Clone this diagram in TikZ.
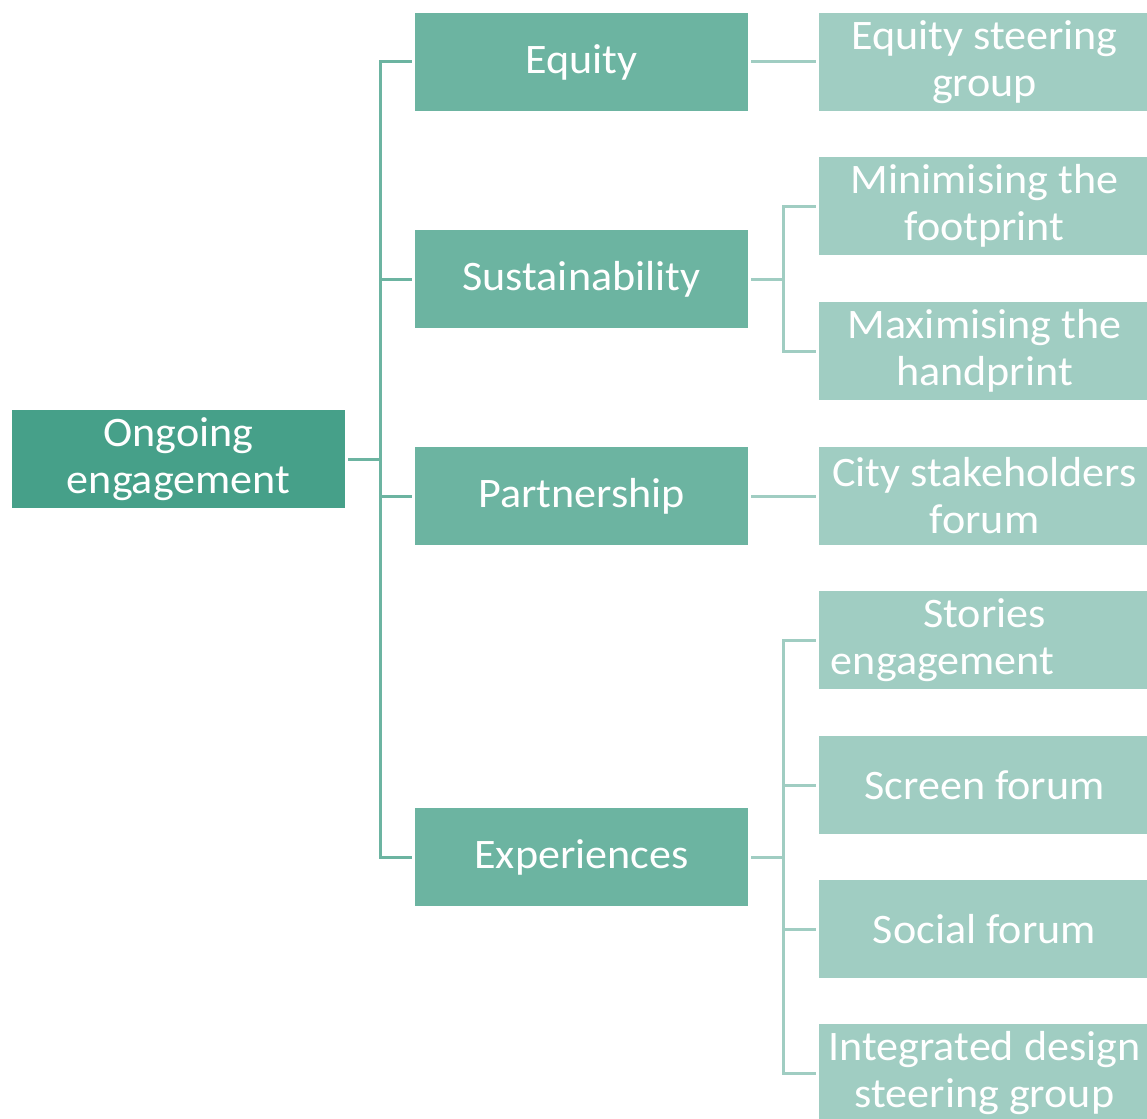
\documentclass[tikz,border=0pt]{standalone}
\usepackage{fontspec}
\setmainfont{Carlito}[FakeStretch=1.05]
\definecolor{rootfill}{HTML}{46A089}
\definecolor{midfill}{HTML}{6CB4A1}
\definecolor{leaffill}{HTML}{A0CDC2}
\begin{document}
\begin{tikzpicture}[x=1pt,y=-1pt,
  box/.style={rectangle,inner sep=0pt,text=white,align=center,
    minimum height=98pt,font=\fontsize{42}{47}\selectfont},
  rootbox/.style={box,fill=rootfill,minimum width=333pt},
  midbox/.style={box,fill=midfill,minimum width=333pt},
  leafbox/.style={box,fill=leaffill,minimum width=331pt},
  midline/.style={draw=midfill,line width=3pt},
  leafline/.style={draw=leaffill,line width=3pt}]
\useasboundingbox (0,0) rectangle (1147,1118);

% root
\node[rootbox] (root) at (178.5,459) {Ongoing\\engagement};

% second level
\node[midbox] (eq)  at (581.5,62)  {Equity};
\node[midbox] (sus) at (581.5,279) {Sustainability};
\node[midbox] (par) at (581.5,496) {Partnership};
\node[midbox] (exp) at (581.5,857) {Experiences};

% third level
\node[leafbox] (eqs)  at (984.5,62)   {Equity steering\\group};
\node[leafbox] (min)  at (984.5,206)  {Minimising the\\footprint};
\node[leafbox] (max)  at (984.5,351)  {Maximising the\\handprint};
\node[leafbox] (city) at (984.5,496)  {City stakeholders\\forum};
\node[leafbox] (sto)  at (984.5,640)  {Stories\\engagement\hspace*{84pt}};
\node[leafbox] (scr)  at (984.5,785)  {Screen forum};
\node[leafbox] (soc)  at (984.5,929)  {Social forum};
\node[leafbox] (intg) at (984.5,1073) {Integrated design\\steering group};

% root to second level
\foreach \t in {eq,sus,par,exp}
  \draw[midline] ([xshift=3pt]root.east) -- ++(32,0) |- ([xshift=-3pt]\t.west);

% second to third level
\draw[leafline] ([xshift=3pt]eq.east) -- ([xshift=-3pt]eqs.west);
\foreach \t in {min,max}
  \draw[leafline] ([xshift=3pt]sus.east) -- ++(32,0) |- ([xshift=-3pt]\t.west);
\draw[leafline] ([xshift=3pt]par.east) -- ([xshift=-3pt]city.west);
\foreach \t in {sto,scr,soc,intg}
  \draw[leafline] ([xshift=3pt]exp.east) -- ++(32,0) |- ([xshift=-3pt]\t.west);
\end{tikzpicture}
\end{document}
